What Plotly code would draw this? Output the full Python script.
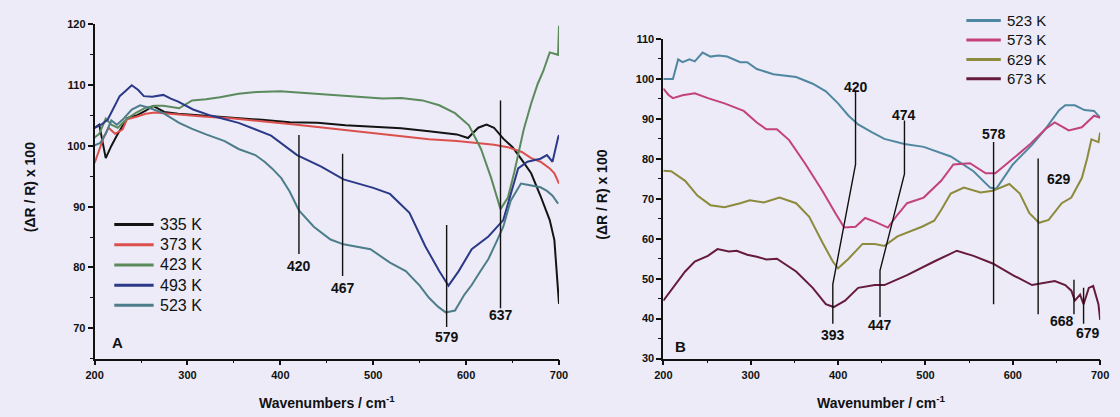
import plotly.graph_objects as go

# ---------------- Panel A data ----------------
a335_x = [200,205,212,218,224,235,245,255,263,275,290,300,320,350,380,410,440,470,500,530,560,590,602,613,622,630,640,650,660,670,680,690,695,700]
a335_y = [103,103.5,98,100,101.7,104.6,105,105.8,106.6,105.6,105.3,105.2,104.9,104.6,104.3,103.9,103.8,103.4,103.1,102.9,102.4,101.9,101.3,103,103.5,103,101.2,99.8,97.7,95.5,91.8,87.8,84.5,74]

a373_x = [200,205,210,215,222,230,235,245,255,265,280,300,320,350,380,410,440,470,500,530,560,590,610,630,645,660,670,680,690,695,700]
a373_y = [97.2,99.5,101.5,103,102,102.7,104.4,104.8,105.3,105.5,105.3,105.1,104.8,104.5,104.1,103.6,103.1,102.6,102.2,101.7,101.1,100.8,100.5,100.2,99.8,99,98,97.4,96.3,95.5,93.8]

a423_x = [200,205,212,218,225,235,245,255,265,274,291,305,320,335,355,375,400,430,460,490,510,530,553,571,588,603,616,627,637,645,652,662,670,677,683,690,695,699,700]
a423_y = [101.4,102,104.5,103.5,103,104.5,105.5,106.3,106.6,106.6,106.2,107.5,107.7,108,108.6,108.9,109,108.7,108.4,108.0,107.8,107.9,107.5,106.7,105.4,103.4,99.5,94.7,89.6,91.5,95.8,102.7,107,110.2,112.3,115.4,115.2,115,119.8]

a493_x = [200,207,214,220,227,233,240,247,253,262,274,282,290,306,325,355,390,418,444,468,500,518,539,556,571,581,592,606,624,640,648,656,666,680,687,693,699,700]
a493_y = [103,103.5,104.3,106,108.2,109,110,109.2,108.2,108.1,108.4,107.8,107.3,106,105,103.8,101.7,98.5,96.6,94.5,93.1,92.1,89,83.5,79.4,77,79.4,83,85.1,87.8,92.1,96.3,97.4,97.9,98.5,97.4,101.4,101.8]

a523_x = [200,206,212,218,224,230,240,249,260,274,291,305,320,340,355,373,383,391,401,410,420,436,454,468,497,518,535,550,560,570,578,588,598,606,615,624,632,640,648,659,666,673,680,687,693,699]
a523_y = [100.1,100.5,102,104.2,103.5,104.3,106,106.7,106.2,105.4,103.8,102.8,101.9,100.8,99.5,98.5,97.4,96.3,94.7,92.5,89.4,86.7,84.6,83.8,83,80.8,79.4,77,75,73.5,72.6,72.9,75.5,77.1,79.3,81.4,84,86.7,91,93.8,93.6,93.4,93.2,92.6,91.8,90.5]

# ---------------- Panel B data ----------------
b523_x = [200,206,211,217,222,230,236,245,254,263,273,288,296,307,326,352,371,386,400,412,423,439,453,476,498,529,555,574,581,600,622,637,653,660,671,682,693,700]
b523_y = [100,100,100,104.9,104.2,104.9,104.4,106.6,105.6,105.9,105.6,104.2,104.2,102.5,101.2,100.5,98.8,96.9,93.9,90.8,88.6,86.6,85,83.7,83,80.6,76.9,72.8,72.5,78.6,83.5,87.4,92.2,93.4,93.4,92.2,92,90.3]

b573_x = [200,206,211,222,236,251,270,292,307,318,330,344,363,382,397,407,420,431,442,457,468,479,498,518,532,551,569,580,600,619,637,648,664,679,693,700]
b573_y = [97.6,96,95.2,95.9,96.4,95.2,93.9,92,89.1,87.4,87.4,84.7,78.6,72,66.4,62.8,63,65.2,64.3,62.8,66,68.9,70.3,74.5,78.6,78.9,76.4,76.4,80,83.5,87.4,89.1,87.1,87.9,90.8,90.3]

b629_x = [200,209,225,239,254,270,288,299,315,333,352,367,382,394,400,412,428,442,453,468,496,510,518,529,544,563,577,596,608,619,630,641,656,667,679,685,690,698,700]
b629_y = [77,76.9,74.5,70.8,68.4,67.9,68.9,69.6,69.1,70.3,68.9,65.5,59.1,54.3,52.6,55,58.7,58.7,58.2,60.6,63,64.5,67.2,71.3,72.8,71.6,72,73.7,71.3,66.4,64,64.7,68.9,70.3,75.2,80,84.9,84.2,86.6]

b673_x = [200,213,225,236,251,262,275,284,296,307,318,330,352,371,386,395,408,423,442,453,479,510,536,555,577,600,622,648,660,667,671,677,681,687,692,698,700]
b673_y = [44.5,48.4,51.8,54.3,55.7,57.4,56.8,57,56,55.5,54.8,55,51.8,47.7,43.6,42.9,44.5,47.7,48.4,48.4,50.9,54.3,57,55.7,53.8,50.9,48.4,49.4,48.4,47,44.5,46,43.6,47.7,48.2,43.6,39.7]

# ---------------- Peak markers ----------------
markA_x = [[420, 420], [467, 467], [579, 579], [637, 637]]
markA_y = [[101.8, 82.2], [98.7, 78.6], [87, 70.2], [107.5, 73.3]]
labelA_text = ["420", "467", "579", "637"]
labelA_x = [420, 467, 579, 637]
labelA_y = [80.3, 76.6, 68.6, 72.2]

markB_x = [[420, 420, 394, 394], [476, 476, 448, 448], [578, 578], [629, 629], [670, 670], [681, 681]]
markB_y = [[97.1, 78.6, 48.6, 38.7], [89.6, 76.2, 52.0, 40.4], [84.2, 43.6], [80.1, 41.1], [49.7, 41.1], [47.7, 38.7]]
labelB_text = ["420", "474", "578", "629", "393", "447", "668", "679"]
labelB_x = [420, 476, 578, 653, 394, 448, 656, 686]
labelB_y = [98.1, 91.0, 86.2, 75.0, 36.0, 38.5, 39.4, 36.3]

FONT = "Liberation Sans, Arial, sans-serif"
BG = "#ecebf7"
W, H = 1120, 417

def px(x):
    return x / W

def py(y):
    return (H - y) / H

fig = go.Figure()
shapes = []
annotations = []

seriesA = [("335 K", a335_x, a335_y, "#141414"),
           ("373 K", a373_x, a373_y, "#dc4f4c"),
           ("423 K", a423_x, a423_y, "#5b8a5d"),
           ("493 K", a493_x, a493_y, "#2b3a88"),
           ("523 K", a523_x, a523_y, "#4d7d8a")]
seriesB = [("523 K", b523_x, b523_y, "#4f87a0"),
           ("573 K", b573_x, b573_y, "#c4427c"),
           ("629 K", b629_x, b629_y, "#8c8a3c"),
           ("673 K", b673_x, b673_y, "#661a3c")]

for name, xs, ys, col in seriesA:
    fig.add_trace(go.Scatter(x=xs, y=ys, mode="lines", name=name, showlegend=False,
                             line=dict(color=col, width=2), xaxis="x", yaxis="y"))
for name, xs, ys, col in seriesB:
    fig.add_trace(go.Scatter(x=xs, y=ys, mode="lines", name=name, showlegend=False,
                             line=dict(color=col, width=2), xaxis="x2", yaxis="y2"))

# hand-drawn style legends (line sample + label), as in the original figure
def add_legend(series, x0, x1, ytop, step, fsize):
    for i, (name, _, _, col) in enumerate(series):
        yy = ytop + i * step
        shapes.append(dict(type="line", xref="paper", yref="paper",
                           x0=px(x0), x1=px(x1), y0=py(yy), y1=py(yy),
                           line=dict(color=col, width=3)))
        annotations.append(dict(x=px(x1 + 4), y=py(yy), xref="paper", yref="paper",
                                text=name, showarrow=False, xanchor="left", yanchor="middle",
                                font=dict(family=FONT, size=fsize, color="#111")))

add_legend(seriesA, 107, 147, 225, 20.8, 16)
add_legend(seriesB, 973, 1008, 15, 20, 15)

for xs, ys in zip(markA_x, markA_y):
    fig.add_trace(go.Scatter(x=xs, y=ys, mode="lines", showlegend=False, hoverinfo="skip",
                             line=dict(color="#111111", width=1.4), xaxis="x", yaxis="y"))
for xs, ys in zip(markB_x, markB_y):
    fig.add_trace(go.Scatter(x=xs, y=ys, mode="lines", showlegend=False, hoverinfo="skip",
                             line=dict(color="#111111", width=1.4), xaxis="x2", yaxis="y2"))

lfont = dict(family=FONT, size=14, color="#111", weight="bold")
for t, x, y in zip(labelA_text, labelA_x, labelA_y):
    annotations.append(dict(x=x, y=y, xref="x", yref="y", text=t, showarrow=False,
                            xanchor="center", yanchor="middle", font=lfont))
for t, x, y in zip(labelB_text, labelB_x, labelB_y):
    annotations.append(dict(x=x, y=y, xref="x2", yref="y2", text=t, showarrow=False,
                            xanchor="center", yanchor="middle", font=lfont))

# panel letters
pfont = dict(family=FONT, size=15, color="#111", weight="bold")
annotations.append(dict(x=px(110), y=py(346), xref="paper", yref="paper", text="A",
                        xanchor="center", yanchor="middle", showarrow=False, font=pfont))
annotations.append(dict(x=px(682), y=py(351), xref="paper", yref="paper", text="B",
                        xanchor="center", yanchor="middle", showarrow=False, font=pfont))

# axis titles
tfont = dict(family=FONT, size=14, color="#111", weight="bold")
annotations.append(dict(x=px(323), y=py(408), xref="paper", yref="paper",
                        text="Wavenumbers / cm<sup>-1</sup>", showarrow=False,
                        xanchor="center", yanchor="middle", font=tfont))
annotations.append(dict(x=px(887), y=py(408), xref="paper", yref="paper",
                        text="Wavenumber / cm<sup>-1</sup>", showarrow=False,
                        xanchor="center", yanchor="middle", font=tfont))
annotations.append(dict(x=px(21), y=py(187), xref="paper", yref="paper",
                        text="(ΔR / R) x 100", textangle=-90, showarrow=False,
                        xanchor="center", yanchor="middle", font=tfont))
annotations.append(dict(x=px(603), y=py(194), xref="paper", yref="paper",
                        text="(ΔR / R) x 100", textangle=-90, showarrow=False,
                        xanchor="center", yanchor="middle", font=tfont))

tickfont = dict(family=FONT, size=11, color="#111", weight="bold")
common_x = dict(range=[200, 700], tickmode="linear", tick0=200, dtick=100,
                ticks="outside", ticklen=5, tickwidth=1.5, tickcolor="#111",
                showline=True, linecolor="#111", linewidth=1.8, showgrid=False, zeroline=False,
                tickfont=tickfont, minor=dict(ticks="outside", dtick=50, ticklen=3, tickwidth=1.2, tickcolor="#111", showgrid=False))
common_y = dict(ticks="outside", ticklen=5, tickwidth=1.5, tickcolor="#111",
                showline=True, linecolor="#111", linewidth=1.8, showgrid=False, zeroline=False,
                tickfont=tickfont, tickmode="linear", dtick=10)

fig.update_layout(
    width=W, height=H,
    margin=dict(l=0, r=0, t=0, b=0),
    paper_bgcolor=BG, plot_bgcolor=BG,
    font=dict(family=FONT, color="#111"),
    xaxis=dict(domain=[px(87), px(559)], anchor="y", **common_x),
    yaxis=dict(domain=[py(363), py(19)], anchor="x", range=[65, 120], tick0=70,
               minor=dict(ticks="outside", dtick=5, ticklen=3, tickwidth=1.2, tickcolor="#111", showgrid=False),
               **common_y),
    xaxis2=dict(domain=[px(665), px(1109)], anchor="y2", **common_x),
    yaxis2=dict(domain=[py(363), py(34)], anchor="x2", range=[30, 110], tick0=30,
                minor=dict(ticks="outside", dtick=5, ticklen=3, tickwidth=1.2, tickcolor="#111", showgrid=False),
                **common_y),
    shapes=shapes,
    annotations=annotations,
    showlegend=False,
)

fig.write_html("out.html")
